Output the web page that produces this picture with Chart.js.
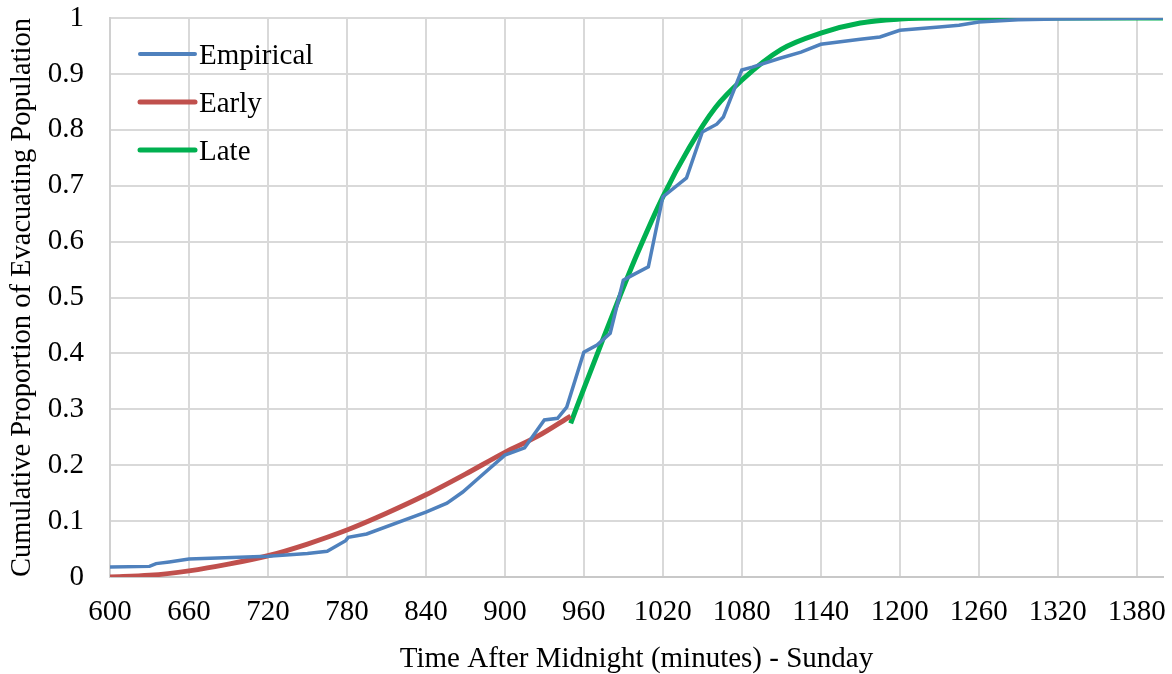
<!DOCTYPE html>
<html>
<head>
<meta charset="utf-8">
<script src="https://cdn.jsdelivr.net/npm/chart.js@4.4.1/dist/chart.umd.min.js"></script>
<style>
  html, body { margin: 0; padding: 0; background: #ffffff; }
  #wrap { width: 1172px; height: 674px; }
</style>
</head>
<body>
<div id="wrap"><canvas id="c" width="1172" height="674"></canvas></div>
<script>
// Observed cumulative share of the evacuating population (minutes after midnight)
const empiricalTime = [600, 630, 635, 645, 660, 720, 750, 765, 779, 781, 795, 840, 856, 868, 881, 900, 915, 930, 940, 947, 960, 970, 980, 990, 997, 1009, 1020, 1038, 1050, 1061, 1066, 1080, 1088, 1109, 1125, 1140, 1170, 1185, 1200, 1230, 1245, 1260, 1290, 1320, 1400];
const empiricalValue = [0.018, 0.019, 0.024, 0.027, 0.032, 0.037, 0.042, 0.046, 0.065, 0.071, 0.077, 0.116, 0.132, 0.152, 0.179, 0.218, 0.231, 0.281, 0.284, 0.304, 0.402, 0.415, 0.436, 0.531, 0.540, 0.555, 0.680, 0.714, 0.796, 0.810, 0.823, 0.907, 0.912, 0.928, 0.939, 0.953, 0.962, 0.966, 0.978, 0.984, 0.987, 0.993, 0.997, 0.998, 1.0];

// Fitted curve for the early phase
const earlyTime = [600, 630, 660, 690, 720, 750, 780, 810, 840, 870, 900, 925, 950];
const earlyValue = [0.0, 0.003, 0.011, 0.023, 0.038, 0.059, 0.084, 0.114, 0.147, 0.184, 0.223, 0.252, 0.288];

// Fitted curve for the late phase
const lateTime = [950, 960, 972, 987, 1000, 1020, 1040, 1060, 1080, 1110, 1140, 1170, 1200, 1230, 1300, 1400];
const lateValue = [0.275, 0.337, 0.41, 0.5, 0.575, 0.68, 0.768, 0.84, 0.889, 0.944, 0.973, 0.991, 0.998, 1.0, 1.0, 1.0];

// Axis ticks
const xTicks = [600, 660, 720, 780, 840, 900, 960, 1020, 1080, 1140, 1200, 1260, 1320, 1380];
const yTicks = [0, 0.1, 0.2, 0.3, 0.4, 0.5, 0.6, 0.7, 0.8, 0.9, 1];

const toPoints = (xs, ys) => xs.map((x, i) => ({ x: x, y: ys[i] }));

const FONT = "'Liberation Serif', 'Times New Roman', serif";

// Legend drawn inside the plot area, at its upper left
const insideLegend = {
  id: 'insideLegend',
  afterDatasetsDraw(chart) {
    const ctx = chart.ctx;
    const x0 = 140, x1 = 195, textX = 199;
    const rows = [54, 102, 150];
    ctx.save();
    chart.data.datasets.forEach((ds, i) => {
      const y = rows[i];
      ctx.beginPath();
      ctx.strokeStyle = ds.borderColor;
      ctx.lineWidth = i === 0 ? 4 : 5;
      ctx.lineCap = 'round';
      ctx.moveTo(x0, y);
      ctx.lineTo(x1, y);
      ctx.stroke();
      ctx.fillStyle = '#000000';
      ctx.font = '29px ' + FONT;
      ctx.textAlign = 'left';
      ctx.textBaseline = 'alphabetic';
      ctx.fillText(ds.label, textX, y + 10);
    });
    ctx.restore();
  }
};

new Chart(document.getElementById('c'), {
  type: 'line',
  data: {
    datasets: [
      {
        label: 'Empirical',
        data: toPoints(empiricalTime, empiricalValue),
        borderColor: '#4f81bd',
        borderWidth: 3.5,
        pointRadius: 0,
        tension: 0,
        fill: false
      },
      {
        label: 'Early',
        data: toPoints(earlyTime, earlyValue),
        borderColor: '#c0504d',
        borderWidth: 5,
        pointRadius: 0,
        cubicInterpolationMode: 'monotone',
        fill: false
      },
      {
        label: 'Late',
        data: toPoints(lateTime, lateValue),
        borderColor: '#00b050',
        borderWidth: 5,
        pointRadius: 0,
        cubicInterpolationMode: 'monotone',
        fill: false
      }
    ]
  },
  options: {
    responsive: false,
    animation: false,
    events: [],
    layout: { padding: { top: 18, right: 9, left: 0, bottom: 0 } },
    plugins: {
      legend: { display: false },
      tooltip: { enabled: false }
    },
    scales: {
      x: {
        type: 'linear',
        min: 600,
        max: 1400,
        afterFit(scale) {
          scale.height = 97;
          scale.paddingLeft = 0;
          scale.paddingRight = 0;
        },
        afterBuildTicks(scale) { scale.ticks = xTicks.map(v => ({ value: v })); },
        grid: { color: '#d9d9d9', lineWidth: 2, drawTicks: false },
        border: { color: '#c8c8c8', width: 2 },
        ticks: {
          color: '#000000',
          padding: 18,
          maxRotation: 0,
          autoSkip: false,
          font: { family: FONT, size: 29 },
          callback: v => String(v)
        },
        title: {
          display: true,
          text: 'Time After Midnight (minutes) - Sunday',
          color: '#000000',
          font: { family: FONT, size: 29, lineHeight: 1 },
          padding: { top: 0, bottom: 0 }
        }
      },
      y: {
        type: 'linear',
        min: 0,
        max: 1,
        afterFit(scale) {
          scale.width = 110;
          scale.paddingTop = 0;
          scale.paddingBottom = 0;
        },
        afterBuildTicks(scale) { scale.ticks = yTicks.map(v => ({ value: v })); },
        grid: { color: '#d9d9d9', lineWidth: 2, drawTicks: false },
        border: { color: '#d0d0d0', width: 2 },
        ticks: {
          color: '#000000',
          padding: 26,
          autoSkip: false,
          font: { family: FONT, size: 29 },
          callback: v => String(Math.round(v * 10) / 10)
        },
        title: {
          display: true,
          text: 'Cumulative Proportion of Evacuating Population',
          color: '#000000',
          font: { family: FONT, size: 28.5, lineHeight: 1 },
          padding: { top: 8, bottom: 0 }
        }
      }
    }
  },
  plugins: [insideLegend]
});
</script>
</body>
</html>
